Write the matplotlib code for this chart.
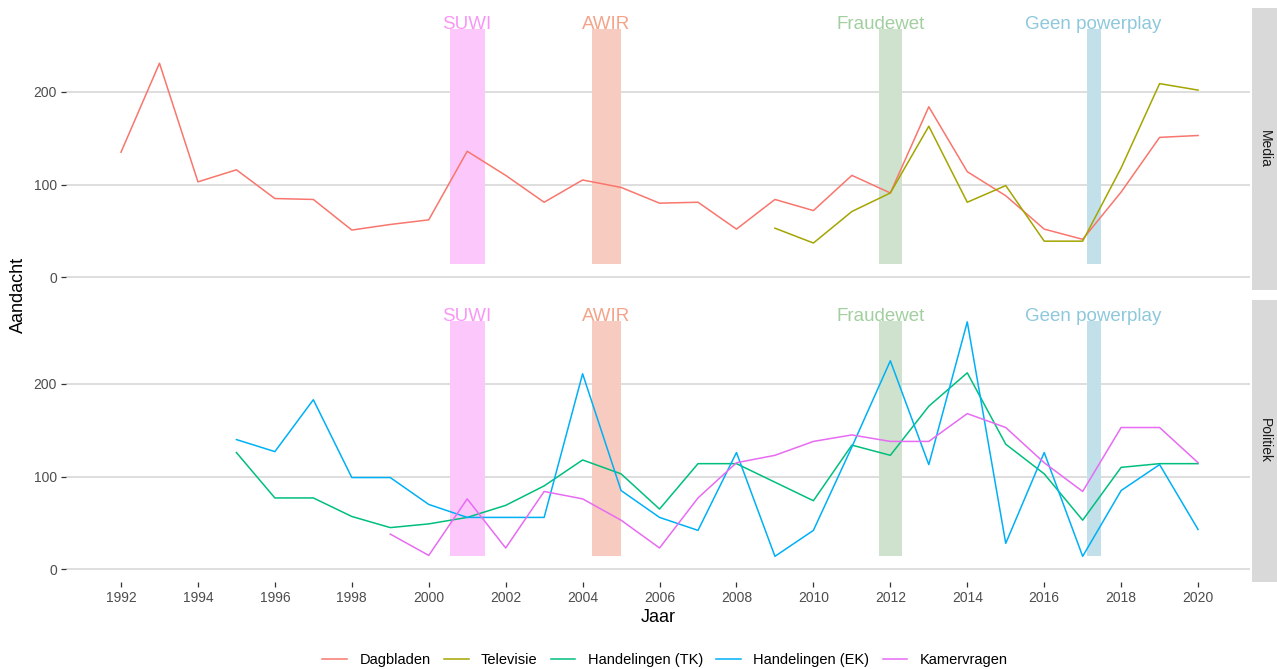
import matplotlib
matplotlib.use("Agg")
import matplotlib.pyplot as plt
from matplotlib.lines import Line2D

plt.rcParams['font.family'] = ['Liberation Sans', 'DejaVu Sans']

# Years
years = list(range(1992, 2021))
years_tv = list(range(2009, 2021))
years_tk = list(range(1995, 2021))
years_ek = list(range(1995, 2021))
years_kv = list(range(1999, 2021))

# Media panel
dagbladen = [135, 231, 103, 116, 85, 84, 51, 57, 62, 136, 110, 81, 105, 97, 80, 81,
             52, 84, 72, 110, 91, 184, 114, 88, 52, 41, 92, 151, 153]
televisie = [53, 37, 71, 91, 163, 81, 99, 39, 39, 118, 209, 202]

# Politiek panel
handelingen_tk = [126, 77, 77, 57, 45, 49, 56, 69, 90, 118, 103, 65, 114, 114,
                  94, 74, 134, 123, 176, 212, 135, 103, 53, 110, 114, 114]
handelingen_ek = [140, 127, 183, 99, 99, 70, 56, 56, 56, 211, 85, 56, 42, 126,
                  14, 42, 132, 225, 113, 267, 28, 126, 14, 85, 113, 43]
kamervragen = [38, 15, 76, 23, 84, 76, 53, 23, 77, 115, 123, 138, 145, 138, 138,
               168, 153, 115, 84, 153, 153, 115]

# Events (shaded periods)
event_names = ['SUWI', 'AWIR', 'Fraudewet', 'Geen powerplay']
event_start = [2000.55, 2004.25, 2011.7, 2017.12]
event_end = [2001.45, 2005.0, 2012.3, 2017.48]
event_label_x = [2001.0, 2004.62, 2011.75, 2017.28]
event_rect_colors = ['#FCC8FB', '#F7CBBF', '#CFE2CD', '#C2E0EA']
event_text_colors = ['#FA96F8', '#F5A48A', '#A2CF9F', '#8EC8DC']
rect_low, rect_high = 14, 268

series_colors = {'Dagbladen': '#F8766D', 'Televisie': '#A3A500',
                 'Handelingen (TK)': '#00BF7D', 'Handelingen (EK)': '#00B0F6',
                 'Kamervragen': '#E76BF3'}

W, H = 1277, 669
fig = plt.figure(figsize=(W / 100, H / 100), dpi=100)

left, right = 66, 1250
panels = [(8, 290, 'Media'), (300, 582, 'Politiek')]
axes = []
for top, bottom, name in panels:
    ax = fig.add_axes([left / W, 1 - bottom / H, (right - left) / W, (bottom - top) / H])
    axes.append(ax)
    # facet strip on the right
    sax = fig.add_axes([1252 / W, 1 - bottom / H, 25 / W, (bottom - top) / H])
    sax.set_facecolor('#D9D9D9')
    sax.set_xticks([])
    sax.set_yticks([])
    for s in sax.spines.values():
        s.set_visible(False)
    sax.text(0.5, 0.5, name, rotation=-90, ha='center', va='center',
             fontsize=10, color='#1A1A1A', transform=sax.transAxes)

for ax in axes:
    for name, x0, x1, lx, rc, tc in zip(event_names, event_start, event_end,
                                        event_label_x, event_rect_colors, event_text_colors):
        ax.fill_between([x0, x1], rect_low, rect_high, color=rc, lw=0, zorder=1)
        ax.text(lx, rect_high, name, color=tc, fontsize=13.5, ha='center',
                va='baseline', zorder=2)
    ax.set_xlim(1990.57, 2021.35)
    ax.set_ylim(-13.7, 290.6)
    ax.set_yticks([0, 100, 200])
    ax.set_xticks(range(1992, 2021, 2))
    ax.grid(axis='y', color='#D4D4D4', lw=1.1, zorder=0)
    ax.set_axisbelow(True)
    for s in ax.spines.values():
        s.set_visible(False)
    ax.tick_params(axis='both', length=3.5, width=0.9, color='#333333',
                   labelcolor='#4D4D4D', labelsize=10, pad=3)

lw = 1.1
axes[0].plot(years, dagbladen, color=series_colors['Dagbladen'], lw=lw, zorder=3)
axes[0].plot(years_tv, televisie, color=series_colors['Televisie'], lw=lw, zorder=3)
axes[1].plot(years_tk, handelingen_tk, color=series_colors['Handelingen (TK)'], lw=lw, zorder=3)
axes[1].plot(years_ek, handelingen_ek, color=series_colors['Handelingen (EK)'], lw=lw, zorder=3)
axes[1].plot(years_kv, kamervragen, color=series_colors['Kamervragen'], lw=lw, zorder=3)

axes[0].tick_params(axis='x', bottom=False, labelbottom=False)

fig.text(18 / W, 1 - 295 / H, 'Aandacht', rotation=90, ha='center', va='center', fontsize=13)
fig.text(658 / W, 1 - 617 / H, 'Jaar', ha='center', va='center', fontsize=13)

handles = [Line2D([0], [0], color=c, lw=lw) for c in series_colors.values()]
fig.legend(handles, list(series_colors.keys()), loc='center', ncol=5,
           bbox_to_anchor=(665 / W, 1 - 660 / H), frameon=False, fontsize=10.5,
           handlelength=1.7, handletextpad=0.85, columnspacing=0.9)

fig.savefig('out.png', dpi=100)
